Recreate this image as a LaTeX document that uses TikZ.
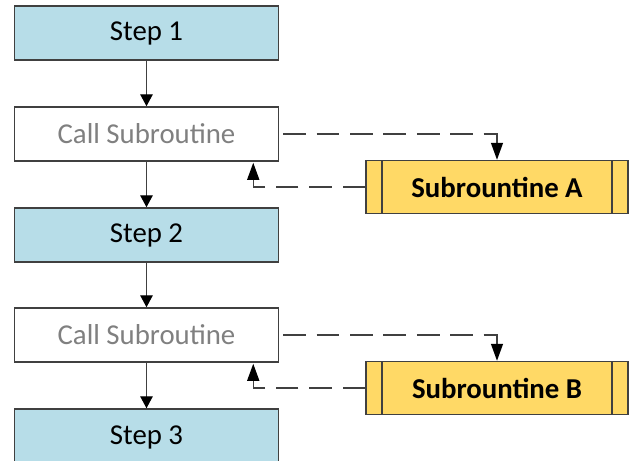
\documentclass[tikz,border=0pt]{standalone}
\usepackage{fontspec}
\setmainfont{Carlito}
\usetikzlibrary{arrows.meta}

\definecolor{stepBlue}{RGB}{183,221,232}
\definecolor{subYellow}{RGB}{255,217,102}
\definecolor{edgeGray}{RGB}{64,64,64}

\tikzset{
	stepBox/.style={rectangle, fill=stepBlue, draw=edgeGray, line width=1.5pt, minimum width=264pt, minimum height=54pt, font=\fontsize{28.8}{34}\selectfont},
	callBox/.style={rectangle, fill=white, draw=edgeGray, line width=1.5pt, minimum width=264pt, minimum height=54pt, text=black!50, font=\fontsize{28.8}{34}\selectfont},
	subBox/.style={rectangle, fill=subYellow, draw=edgeGray, line width=1.5pt, minimum width=262pt, minimum height=53pt, font=\fontsize{28.8}{34}\selectfont\bfseries,
		path picture={\draw[edgeGray, line width=1.3pt] ([xshift=16pt]path picture bounding box.north west) -- ([xshift=16pt]path picture bounding box.south west)
			([xshift=-16pt]path picture bounding box.north east) -- ([xshift=-16pt]path picture bounding box.south east);}},
	flowEdge/.style={-{Triangle[length=12pt, width=12.5pt, color=black]}, line width=1.4pt, draw=edgeGray},
	callEdge/.style={-{Triangle[length=17pt, width=12pt, color=black]}, line width=1.4pt, draw=edgeGray, dash pattern=on 22.7pt off 10.7pt}
}

\begin{document}
\begin{tikzpicture}[x=1pt, y=-1pt]
	\useasboundingbox (0,0) rectangle (630,461);

	\node[stepBox](step1Box) at (146.5,33){Step 1};
	\node[callBox](call1Box) at (146.5,134){Call Subroutine};
	\node[stepBox](step2Box) at (146.5,235){Step 2};
	\node[callBox](call2Box) at (146.5,335){Call Subroutine};
	\node[stepBox, minimum height=57pt](step3Box) at (146.5,437.5){Step 3};

	\node[subBox](subABox) at (497,187){Subrountine A};
	\node[subBox](subBBox) at (497,388){Subrountine B};

	% draw flow edges
	\draw[flowEdge] (step1Box.south) -- (call1Box.north);
	\draw[flowEdge] (call1Box.south) -- (step2Box.north);
	\draw[flowEdge] (step2Box.south) -- (call2Box.north);
	\draw[flowEdge] (call2Box.south) -- (step3Box.north);

	% draw call edges
	\draw[callEdge] ([xshift=4pt]call1Box.east) -| (subABox.north);
	\draw[callEdge] ([xshift=4pt]call2Box.east) -| (subBBox.north);

	% draw return edges
	\draw[callEdge, shorten >=1pt] (subABox.west) -| ([xshift=-26pt]call1Box.south east);
	\draw[callEdge, shorten >=1pt] (subBBox.west) -| ([xshift=-26pt]call2Box.south east);
\end{tikzpicture}
\end{document}
